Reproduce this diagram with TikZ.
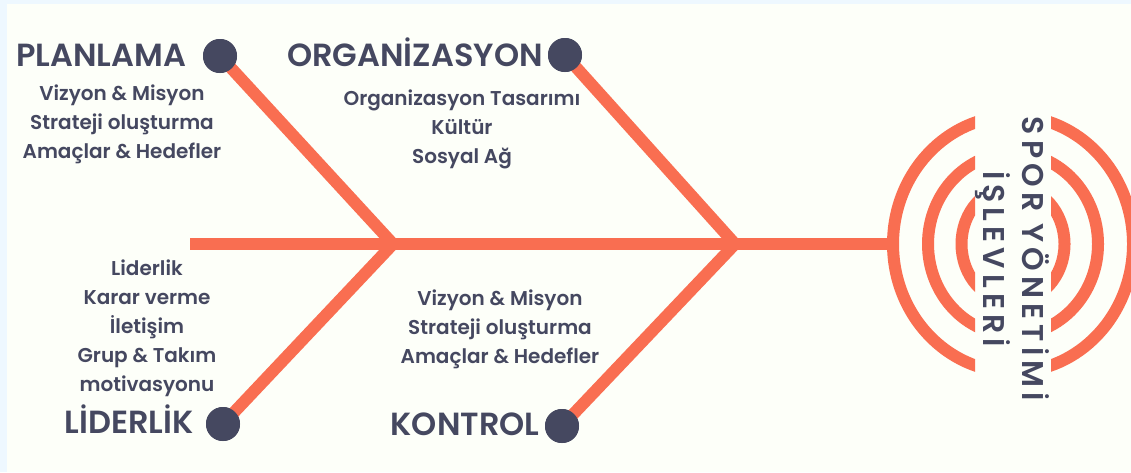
\documentclass[tikz,border=0pt]{standalone}
\usepackage{fontspec}
\setmainfont{Poppins}[BoldFont={Poppins SemiBold}]
\newfontfamily\spacedfont{Poppins}[LetterSpace=17, BoldFont={Poppins SemiBold}]
\definecolor{bgblue}{HTML}{EEF8FF}
\definecolor{bgcream}{HTML}{FDFFF9}
\definecolor{bone}{HTML}{F96E51}
\definecolor{ink}{HTML}{454860}
\tikzset{
  title/.style={font=\bfseries\fontsize{32}{33}\selectfont, text=ink, inner sep=0pt, anchor=base},
  sub/.style={font=\bfseries\fontsize{20}{29}\selectfont, text=ink, align=center, inner sep=0pt},
  dot/.style={circle, fill=ink, minimum size=34pt, inner sep=0pt},
  bonestroke/.style={draw=bone, line width=12pt, miter limit=10},
  ring/.style={draw=bone, line width=12pt},
}
\begin{document}
\begin{tikzpicture}[x=1pt,y=-1pt]
\useasboundingbox (0,0) rectangle (1131,472);
\fill[bgblue] (0,0) rectangle (1131,472);
\fill[bgcream] (7,4) rectangle (1131,472);

% junction and spine coordinates
\coordinate (j1) at (393,244);
\coordinate (j2) at (735,244);
\coordinate (spineL) at (190,244);
\coordinate (spineR) at (895,244);
\coordinate (hub) at (1013,244);

% dots (positions)
\node[dot] (dPlan) at (220,56) {};
\node[dot] (dOrg) at (565,55) {};
\node[dot] (dLid) at (223,424) {};
\node[dot] (dKon) at (562,426) {};

% bones
\draw[bonestroke] (spineL) -- (spineR);
\draw[bonestroke] (dPlan.center) -- (j1) -- (dLid.center);
\draw[bonestroke] (dOrg.center) -- (j2) -- (dKon.center);

% redraw dots on top
\node[dot] at (dPlan) {};
\node[dot] at (dOrg) {};
\node[dot] at (dLid) {};
\node[dot] at (dKon) {};

% rings
\begin{scope}
  \clip (860,90) rectangle (975,400);
  \draw[ring] (hub) ellipse[x radius=120, y radius=128];
  \draw[ring] (hub) ellipse[x radius=85, y radius=91];
  \draw[ring] (hub) ellipse[x radius=51.5, y radius=58];
\end{scope}
\begin{scope}
  \clip (1051,90) rectangle (1131,400);
  \draw[ring] (hub) ellipse[x radius=120, y radius=128];
  \draw[ring] (hub) ellipse[x radius=85, y radius=91];
  \draw[ring] (hub) ellipse[x radius=51.5, y radius=58];
\end{scope}

% titles
\node[title] (tPlan) at (101,66) {PLANLAMA};
\node[title] (tOrg) at (415,66) {ORGANİZASYON};
\node[title] (tLid) at (129,433) {LİDERLİK};
\node[title] (tKon) at (465,435) {KONTROL};

% sub texts
\node[sub] (sPlan) at (122,124) {Vizyon \& Misyon\\Strateji oluşturma\\Amaçlar \& Hedefler};
\node[sub] (sOrg) at (462,129) {Organizasyon Tasarımı\\Kültür\\Sosyal Ağ};
\node[sub] (sLid) at (147,328) {Liderlik\\Karar verme\\İletişim\\Grup \& Takım\\motivasyonu};
\node[sub] (sKon) at (500,329) {Vizyon \& Misyon\\Strateji oluşturma\\Amaçlar \& Hedefler};

% head text
\node[rotate=-90, align=center, text=ink, inner sep=0pt, font=\spacedfont\bfseries\fontsize{30}{39}\selectfont] (head) at (1012,259) {SPOR YÖNETİMİ\\İŞLEVLERİ};
\end{tikzpicture}
\end{document}
